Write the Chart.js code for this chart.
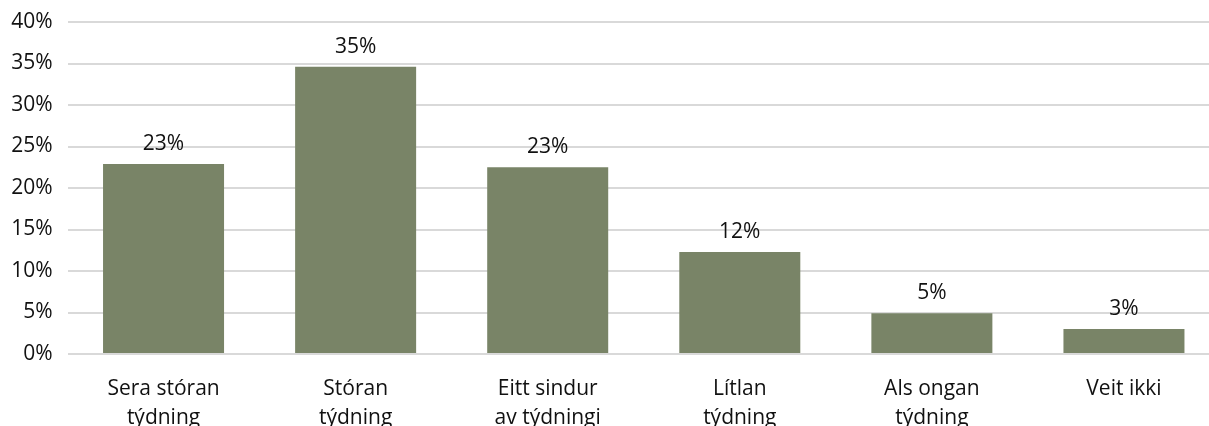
<!DOCTYPE html>
<html>
<head>
<meta charset="utf-8">
<script src="https://cdn.jsdelivr.net/npm/chart.js@4/dist/chart.umd.min.js"></script>
<style>
html,body{margin:0;padding:0;background:#fff;overflow:hidden;}
#wrap{position:relative;width:1220px;height:450px;}
</style>
</head>
<body>
<div id="wrap"><canvas id="c"></canvas></div>
<script>
const categories = [["Sera stóran","týdning"],["Stóran","týdning"],["Eitt sindur","av týdningi"],["Lítlan","týdning"],["Als ongan","týdning"],["Veit ikki"]];
const values = [22.9, 34.6, 22.5, 12.3, 4.9, 3.0];
const yTicks = [0,5,10,15,20,25,30,35,40];

const FONT = "'Open Sans', sans-serif";
const labelPlugin = {
  id: 'barLabels',
  afterDatasetsDraw(chart) {
    const ctx = chart.ctx;
    const meta = chart.getDatasetMeta(0);
    ctx.save();
    ctx.font = "21px " + FONT;
    ctx.fillStyle = '#111';
    ctx.textAlign = 'center';
    ctx.textBaseline = 'alphabetic';
    meta.data.forEach((bar, i) => {
      ctx.fillText(Math.round(values[i]) + '%', bar.x, bar.y - 14);
    });
    ctx.restore();
  }
};

new Chart(document.getElementById('c'), {
  type: 'bar',
  data: {
    labels: categories,
    datasets: [{
      data: values,
      backgroundColor: '#798467',
      categoryPercentage: 1,
      barPercentage: 0.63
    }]
  },
  options: {
    responsive: true,
    maintainAspectRatio: false,
    animation: false,
    layout: { padding: { top: 22, left: 0, right: 0, bottom: 0 } },
    plugins: { legend: { display: false }, tooltip: { enabled: false } },
    scales: {
      x: {
        grid: { display: false },
        border: { display: false },
        ticks: { color: '#111', font: { family: FONT, size: 21, lineHeight: 1.35 }, padding: 13, maxRotation: 0, autoSkip: false },
        afterFit(s) { s.height = 96; s.paddingLeft = 0; s.paddingRight = 0; }
      },
      y: {
        min: 0, max: 40,
        afterBuildTicks(s) { s.ticks = yTicks.map(v => ({ value: v })); },
        grid: { color: '#d9d9d9', lineWidth: 2, drawTicks: false },
        border: { display: false },
        ticks: { color: '#111', font: { family: FONT, size: 21 }, padding: 15, callback: v => v + '%' },
        afterFit(s) { s.width = 67.5; s.paddingTop = 0; s.paddingBottom = 0; }
      }
    }
  },
  plugins: [labelPlugin]
});
</script>
</body>
</html>
